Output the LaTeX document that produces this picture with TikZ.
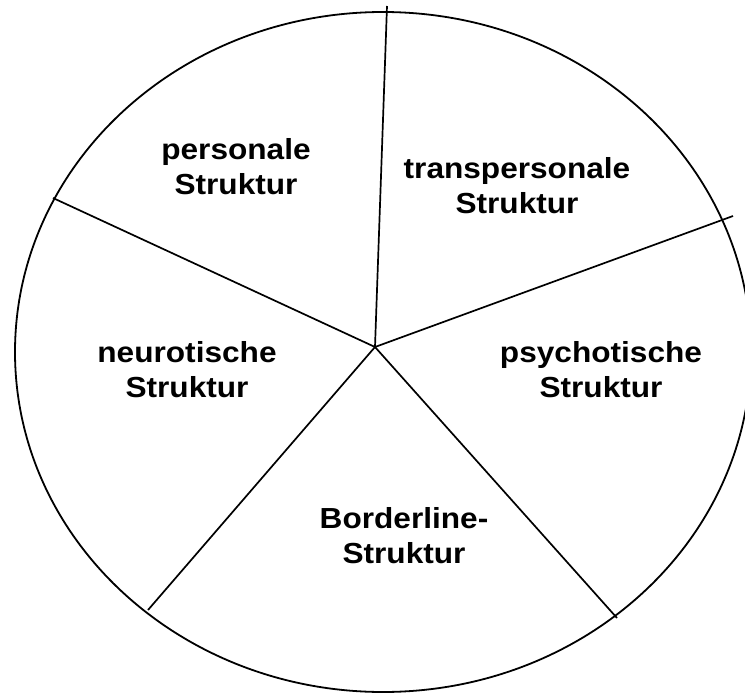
\documentclass[tikz,border=0pt]{standalone}
\usepackage{fontspec}
\setmainfont[FakeStretch=1.09]{Liberation Sans}
\tikzstyle{rim} = [draw=black, line width=1.8pt]
\tikzstyle{spoke} = [draw=black, line width=1.7pt]
\tikzstyle{struk} = [align=center, font={\bfseries\fontsize{29}{35}\selectfont}]
\begin{document}
\begin{tikzpicture}[x=1pt,y=-1pt]
    \useasboundingbox (0,0) rectangle (745,693);
    \draw[rim] (383,352) ellipse [x radius=368, y radius=340];
    \coordinate (hub) at (375,347);
    \coordinate (top) at (387,6);
    \coordinate (left) at (53,198);
    \coordinate (right) at (733,216);
    \coordinate (lowleft) at (148,610);
    \coordinate (lowright) at (617,618);
    \draw[spoke](hub)--(top);
    \draw[spoke](hub)--(left);
    \draw[spoke](hub)--(right);
    \draw[spoke](hub)--(lowleft);
    \draw[spoke](hub)--(lowright);
    \node[struk](personal) at (236,167){personale\\Struktur};
    \node[struk](transpersonal) at (517,186){transpersonale\\Struktur};
    \node[struk](neurotic) at (187,370){neurotische\\Struktur};
    \node[struk](psychotic) at (601,370){psychotische\\Struktur};
    \node[struk](borderline) at (404,536){Borderline-\\Struktur};
  \end{tikzpicture}
\end{document}
